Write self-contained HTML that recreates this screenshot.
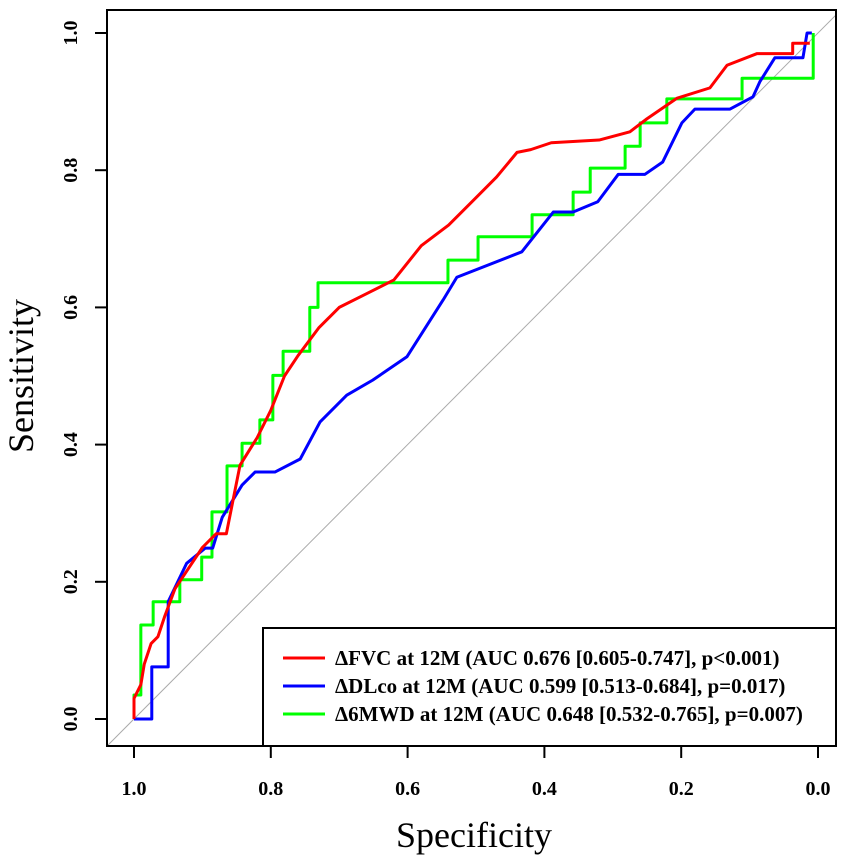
<!DOCTYPE html>
<html><head><meta charset="utf-8"><style>
html,body{margin:0;padding:0;background:#fff;}
svg text{font-family:"Liberation Serif",serif;}
</style></head><body>
<svg id="chart" width="850" height="863" viewBox="0 0 850 863" xmlns="http://www.w3.org/2000/svg">
<defs><clipPath id="clip"><rect x="107" y="10" width="729" height="736"/></clipPath></defs>
<g id="plot" clip-path="url(#clip)"></g>
<rect x="107" y="10" width="729" height="736" fill="none" stroke="#000" stroke-width="2"/>
<g id="axes"></g>
<text x="474" y="847" font-size="36" text-anchor="middle">Specificity</text>
<text x="0" y="0" font-size="36" text-anchor="middle" transform="translate(33,376) rotate(-90)">Sensitivity</text>
<g>
<rect x="263" y="628" width="573" height="118" fill="#fff" stroke="#000" stroke-width="2"/>
<line x1="283" y1="658" x2="325" y2="658" stroke="#ff0000" stroke-width="3"/>
<line x1="283" y1="686" x2="325" y2="686" stroke="#0000ff" stroke-width="3"/>
<line x1="283" y1="714" x2="325" y2="714" stroke="#00ff00" stroke-width="3"/>
<text x="335" y="665" font-size="21" font-weight="bold">ΔFVC at 12M (AUC 0.676 [0.605-0.747], p&lt;0.001)</text>
<text x="335" y="693" font-size="21" font-weight="bold">ΔDLco at 12M (AUC 0.599 [0.513-0.684], p=0.017)</text>
<text x="335" y="721" font-size="21" font-weight="bold">Δ6MWD at 12M (AUC 0.648 [0.532-0.765], p=0.007)</text>
</g>
</svg>
<script>
const ticks = [1.0, 0.8, 0.6, 0.4, 0.2, 0.0];
const tickLabels = ["1.0","0.8","0.6","0.4","0.2","0.0"];
const fvcSpec = [1,1,0.99,0.985,0.975,0.965,0.955,0.94,0.92,0.9,0.88,0.865,0.855,0.845,0.82,0.8,0.78,0.76,0.73,0.7,0.66,0.62,0.58,0.54,0.5,0.47,0.44,0.42,0.39,0.32,0.275,0.25,0.206,0.158,0.133,0.089,0.037,0.037,0.012];
const fvcSens = [0,0.03,0.05,0.08,0.11,0.12,0.15,0.19,0.22,0.25,0.27,0.27,0.32,0.37,0.41,0.45,0.5,0.53,0.57,0.6,0.62,0.64,0.69,0.72,0.76,0.79,0.826,0.83,0.84,0.844,0.856,0.875,0.905,0.92,0.953,0.97,0.97,0.985,0.985];
const dlcoSpec = [1,0.974,0.974,0.95,0.95,0.923,0.896,0.885,0.871,0.842,0.823,0.794,0.757,0.728,0.689,0.651,0.601,0.548,0.528,0.433,0.387,0.358,0.322,0.292,0.253,0.227,0.199,0.18,0.129,0.095,0.085,0.063,0.022,0.016,0.009];
const dlcoSens = [0,0,0.076,0.076,0.171,0.227,0.249,0.249,0.294,0.341,0.36,0.36,0.379,0.433,0.472,0.494,0.528,0.611,0.644,0.681,0.739,0.739,0.754,0.794,0.794,0.812,0.869,0.889,0.889,0.907,0.929,0.964,0.964,1.0,1.0];
const mwdSpec = [1,1,0.99,0.99,0.972,0.972,0.933,0.933,0.901,0.901,0.886,0.886,0.864,0.864,0.842,0.842,0.816,0.816,0.797,0.797,0.782,0.782,0.743,0.743,0.731,0.731,0.541,0.541,0.497,0.497,0.418,0.418,0.358,0.358,0.333,0.333,0.282,0.282,0.26,0.26,0.221,0.221,0.111,0.111,0.007,0.007];
const mwdSens = [0,0.035,0.035,0.137,0.137,0.171,0.171,0.203,0.203,0.236,0.236,0.302,0.302,0.369,0.369,0.402,0.402,0.436,0.436,0.501,0.501,0.536,0.536,0.6,0.6,0.636,0.636,0.669,0.669,0.703,0.703,0.735,0.735,0.768,0.768,0.803,0.803,0.835,0.835,0.869,0.869,0.904,0.904,0.934,0.934,1.0];

const NS = "http://www.w3.org/2000/svg";
const xS = v => 134 + (1 - v) * 684;
const yS = v => 719 - v * 686;
const plot = document.getElementById('plot');
const axes = document.getElementById('axes');

const diag = document.createElementNS(NS, 'line');


diag.setAttribute('x1', xS(1.05)); diag.setAttribute('y1', yS(-0.05));
diag.setAttribute('x2', xS(-0.05)); diag.setAttribute('y2', yS(1.05));
diag.setAttribute('stroke', '#aaa'); diag.setAttribute('stroke-width', '1');
plot.appendChild(diag);

function drawCurve(sp, se, color, name) {
  const p = document.createElementNS(NS, 'polyline');
  
  
  p.setAttribute('points', sp.map((s, i) => xS(s) + ',' + yS(se[i])).join(' '));
  p.setAttribute('fill', 'none'); p.setAttribute('stroke', color);
  p.setAttribute('stroke-width', '3'); p.setAttribute('stroke-linejoin', 'round');
  plot.appendChild(p);
}
drawCurve(mwdSpec, mwdSens, '#00ff00', 'curve-6mwd');
drawCurve(dlcoSpec, dlcoSens, '#0000ff', 'curve-dlco');
drawCurve(fvcSpec, fvcSens, '#ff0000', 'curve-fvc');

ticks.forEach((t, i) => {
  const xt = document.createElementNS(NS, 'line');
  
  
  xt.setAttribute('x1', xS(t)); xt.setAttribute('x2', xS(t));
  xt.setAttribute('y1', 746); xt.setAttribute('y2', 758);
  xt.setAttribute('stroke', '#000'); xt.setAttribute('stroke-width', '2');
  axes.appendChild(xt);
  const xl = document.createElementNS(NS, 'text');
  
  
  xl.setAttribute('x', xS(t)); xl.setAttribute('y', 795);
  xl.setAttribute('font-size', '20'); xl.setAttribute('font-weight', 'bold');
  xl.setAttribute('text-anchor', 'middle');
  xl.textContent = tickLabels[i];
  axes.appendChild(xl);
  const yv = 1 - t;
  const yt = document.createElementNS(NS, 'line');
  
  
  yt.setAttribute('x1', 95); yt.setAttribute('x2', 107);
  yt.setAttribute('y1', yS(yv)); yt.setAttribute('y2', yS(yv));
  yt.setAttribute('stroke', '#000'); yt.setAttribute('stroke-width', '2');
  axes.appendChild(yt);
  const yl = document.createElementNS(NS, 'text');
  
  
  yl.setAttribute('font-size', '20'); yl.setAttribute('font-weight', 'bold');
  yl.setAttribute('text-anchor', 'middle');
  yl.setAttribute('transform', 'translate(77,' + yS(yv) + ') rotate(-90)');
  yl.textContent = tickLabels[5 - i];
  axes.appendChild(yl);
});
</script>
</body></html>
